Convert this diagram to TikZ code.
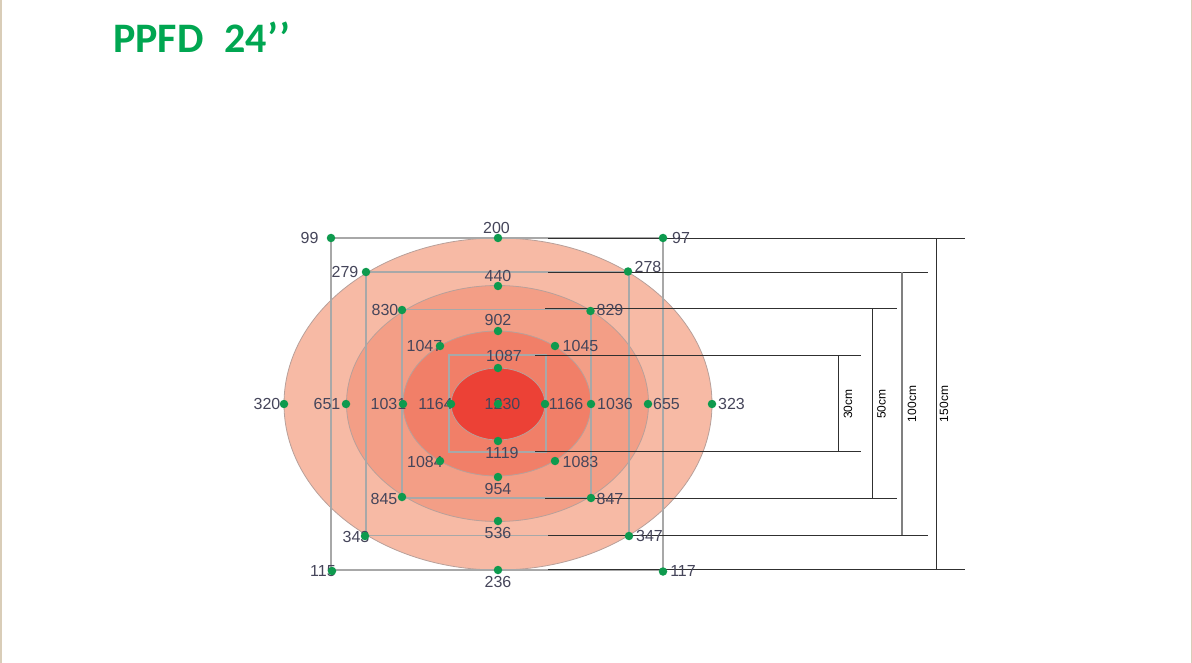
\documentclass[tikz,border=0pt]{standalone}
\usepackage{fontspec}
\setmainfont{Liberation Sans}
\newfontfamily\titlefont{Carlito}
\definecolor{dotgreen}{HTML}{0E9A4E}
\definecolor{labgray}{HTML}{45455A}
\definecolor{gridgray}{HTML}{A8A8A8}
\definecolor{dimgray}{HTML}{303030}
\definecolor{edgegray}{HTML}{B8A09A}
\definecolor{zoneA}{HTML}{F7BAA5}
\definecolor{zoneB}{HTML}{F39E86}
\definecolor{zoneC}{HTML}{F17F68}
\definecolor{zoneD}{HTML}{EC4136}
\definecolor{titlegreen}{HTML}{00A651}
\definecolor{framebeige}{HTML}{D9CDB8}
\tikzset{
  dotmark/.style={circle,fill=dotgreen,inner sep=0pt,minimum size=8.5pt},
  lab/.style={text=labgray,font=\fontsize{16}{18}\selectfont,inner sep=0pt},
  gridline/.style={draw=gridgray,line width=1.2pt},
  dimline/.style={draw=dimgray,line width=1pt},
  dimlab/.style={font=\fontsize{12}{14}\selectfont,rotate=90,text=black,inner sep=0pt},
  zone/.style={draw=edgegray,line width=0.8pt}
}
\begin{document}
\begin{tikzpicture}[x=1pt,y=-1pt]
\useasboundingbox (0,0) rectangle (1192,663);
\fill[white] (0,0) rectangle (1192,663);
\draw[framebeige,line width=1.5pt] (0.75,0) -- (0.75,663);
\draw[framebeige,line width=1.5pt] (1191.25,0) -- (1191.25,663);
% title
\node[anchor=base west,inner sep=0pt,text=titlegreen,font=\titlefont\bfseries\fontsize{42}{46}\selectfont] (title) at (113,53) {PPFD\ \ \kern2pt 24’\kern1pt’};
% zones
\draw[zone,fill=zoneA] (498,404) ellipse [x radius=214, y radius=166];
\draw[zone,fill=zoneB] (497.5,403.5) ellipse [x radius=151, y radius=118];
\draw[zone,fill=zoneC] (497,403.5) ellipse [x radius=94, y radius=72.5];
\draw[zone,fill=zoneD] (498,404) ellipse [x radius=47, y radius=36];
% rectangle corners
\coordinate (a1) at (331,238); \coordinate (a2) at (663,238);
\coordinate (a3) at (663,570); \coordinate (a4) at (331,570);
\coordinate (b1) at (366,272); \coordinate (b2) at (629,272);
\coordinate (b3) at (629,535.5); \coordinate (b4) at (366,535.5);
\coordinate (c1) at (402,309.5); \coordinate (c2) at (591,309.5);
\coordinate (c3) at (591,498); \coordinate (c4) at (402,498);
\coordinate (d1) at (449,355); \coordinate (d2) at (546,355);
\coordinate (d3) at (546,452); \coordinate (d4) at (449,452);
\draw[gridline] (a1) -- (a2) -- (a3) -- (a4) -- cycle;
\draw[gridline] (b1) -- (b2) -- (b3) -- (b4) -- cycle;
\draw[gridline] (c1) -- (c2) -- (c3) -- (c4) -- cycle;
\draw[gridline] (d1) -- (d2) -- (d3) -- (d4) -- cycle;
% dimension lines
\coordinate (s150t) at (548,239); \coordinate (e150t) at (965,239);
\coordinate (s150b) at (548,569.5); \coordinate (e150b) at (965,569.5);
\coordinate (v150t) at (936.5,239); \coordinate (v150b) at (936.5,569.5);
\coordinate (s100t) at (548,272.5); \coordinate (e100t) at (928,272.5);
\coordinate (s100b) at (548,535); \coordinate (e100b) at (928,535);
\coordinate (v100t) at (902,272.5); \coordinate (v100b) at (902,535);
\coordinate (s50t) at (545,308); \coordinate (e50t) at (897,308);
\coordinate (s50b) at (545,498); \coordinate (e50b) at (897,498);
\coordinate (v50t) at (872.5,308); \coordinate (v50b) at (872.5,498);
\coordinate (s30t) at (535,355.5); \coordinate (e30t) at (861,355.5);
\coordinate (s30b) at (535,451.5); \coordinate (e30b) at (861,451.5);
\coordinate (v30t) at (838.5,355.5); \coordinate (v30b) at (838.5,451.5);
\draw[dimline] (s150t) -- (e150t); \draw[dimline] (s150b) -- (e150b); \draw[dimline] (v150t) -- (v150b);
\draw[dimline] (s100t) -- (e100t); \draw[dimline] (s100b) -- (e100b); \draw[dimline,draw=gray,line width=1.3pt] (v100t) -- (v100b);
\draw[dimline] (s50t) -- (e50t); \draw[dimline] (s50b) -- (e50b); \draw[dimline] (v50t) -- (v50b);
\draw[dimline] (s30t) -- (e30t); \draw[dimline] (s30b) -- (e30b); \draw[dimline] (v30t) -- (v30b);
\node[dimlab] (l30) at (848,404) {30cm};
\node[dimlab] (l50) at (881.5,404) {50cm};
\node[dimlab] (l100) at (912,404) {100cm};
\node[dimlab] (l150) at (944,404) {150cm};
% labels
\foreach \n/\lx/\ly in {
  99/309.5/238, 200/496.5/227.5, 97/681/238,
  279/345/271.5, 278/648/266.5, 440/498/275.5,
  830/385/310, 829/610/310, 902/498/320,
  1047/424.5/346, 1045/580.5/346, 1087/504/356,
  320/267/403.5, 651/327/403.5, 1031/388.5/403.5, 1164/435.5/403.5,
  1230/502.5/403.5, 1166/566/403.5, 1036/615/403.5, 655/666.5/403.5, 323/731.5/403.5,
  1119/502/453, 1084/425/462, 1083/580.5/462,
  954/498/489, 845/384/498.5, 847/610/498.5,
  536/498/533, 343/356/537, 347/649.5/536,
  115/323/571, 236/498/582, 117/683/571}
  \node[lab] (t\n) at (\lx,\ly) {\n};
% dots
\foreach \n/\dx/\dy in {
  99/331/238, 200/498/238, 97/663/238,
  279/366/272, 278/628/271.5, 440/498/286,
  830/402/310, 829/590.5/311, 902/498/331,
  1047/440/346, 1045/555/346, 1087/498/368,
  320/284/404, 651/346/404, 1031/403/404, 1164/451/404,
  1230/498/404, 1166/545/404, 1036/591/404, 655/648/404, 323/712/404,
  1119/498/441, 1084/440/461, 1083/555/461,
  954/498/477, 845/402/497, 847/591/498,
  536/498/521, 343/365/536, 347/629/536,
  115/332/571, 236/498/570, 117/663/571.5}
  \node[dotmark] (p\n) at (\dx,\dy) {};
\end{tikzpicture}
\end{document}
